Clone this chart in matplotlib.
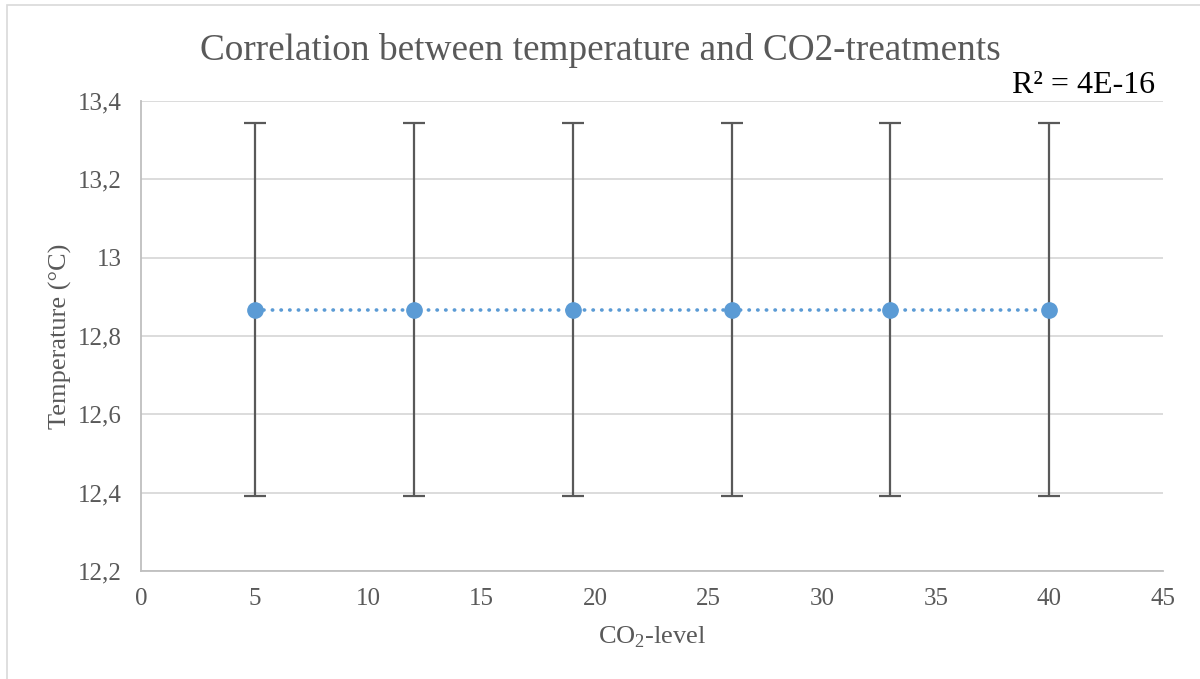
import numpy as np
import matplotlib
matplotlib.use("Agg")
import matplotlib.pyplot as plt
from matplotlib.ticker import FuncFormatter, MultipleLocator
from matplotlib.patches import Rectangle

plt.rcParams['font.family'] = ['Liberation Serif', 'DejaVu Serif']
plt.rcParams['mathtext.fontset'] = 'custom'
plt.rcParams['mathtext.rm'] = 'Liberation Serif'

# CO2 treatment levels and mean temperature with its error
co2_levels = [5, 12, 19, 26, 33, 40]
temperature = [12.867, 12.867, 12.867, 12.867, 12.867, 12.867]
temp_err = [0.476, 0.476, 0.476, 0.476, 0.476, 0.476]
r2_label = "R² = 4E-16"

text_grey = "#595959"
blue = "#5B9BD5"

fig = plt.figure(figsize=(12, 6.79), dpi=100)
ax = fig.add_axes([0.1175, 0.159, 0.8517, 0.6923])

# outer chart frame
fig.patches.append(Rectangle((7 / 1200, -0.1), 1.2, 1 - 5 / 679 + 0.1,
                             transform=fig.transFigure, fill=False,
                             edgecolor="#D9D9D9", lw=1.2, zorder=0))

ax.errorbar(co2_levels, temperature, yerr=temp_err, fmt='none',
            ecolor=text_grey, elinewidth=1.6, capsize=8, capthick=1.6, zorder=2)

# linear trendline through the means
coef = np.polyfit(co2_levels, temperature, 1)
xs = np.array([co2_levels[0], co2_levels[-1]])
ax.plot(xs, np.polyval(coef, xs), color=blue, lw=2.6,
        linestyle=(0, (0.1, 2.3)), dash_capstyle='round', zorder=3)

ax.plot(co2_levels, temperature, 'o', color=blue, markersize=11, zorder=4)

ax.set_xlim(0, 45)
ax.set_ylim(12.2, 13.4)
ax.xaxis.set_major_locator(MultipleLocator(5))
ax.yaxis.set_major_locator(MultipleLocator(0.2))
ax.yaxis.set_major_formatter(FuncFormatter(lambda v, p: ("%g" % round(v, 1)).replace(".", ",")))

ax.grid(axis='y', color="#D9D9D9", lw=1.3)
ax.set_axisbelow(True)
for s in ['top', 'right']:
    ax.spines[s].set_visible(False)
for s in ['left', 'bottom']:
    ax.spines[s].set_color("#BFBFBF")
    ax.spines[s].set_linewidth(1.3)
ax.tick_params(length=0, labelsize=18, labelcolor=text_grey)
ax.tick_params(axis='y', pad=14)
ax.tick_params(axis='x', pad=12)

ax.set_xlabel("CO$_\\mathregular{2}$-level", fontsize=19, color=text_grey, labelpad=11)
ax.set_ylabel("Temperature (°C)", fontsize=19, color=text_grey, labelpad=4)
fig.text(0.5, 0.925, "Correlation between temperature and CO2-treatments",
         ha='center', va='center', fontsize=26.8, color=text_grey)
ax.text(0.992, 1.003, r2_label, transform=ax.transAxes, ha='right', va='bottom',
        fontsize=23, color='black')

fig.savefig("out.png", dpi=100)
